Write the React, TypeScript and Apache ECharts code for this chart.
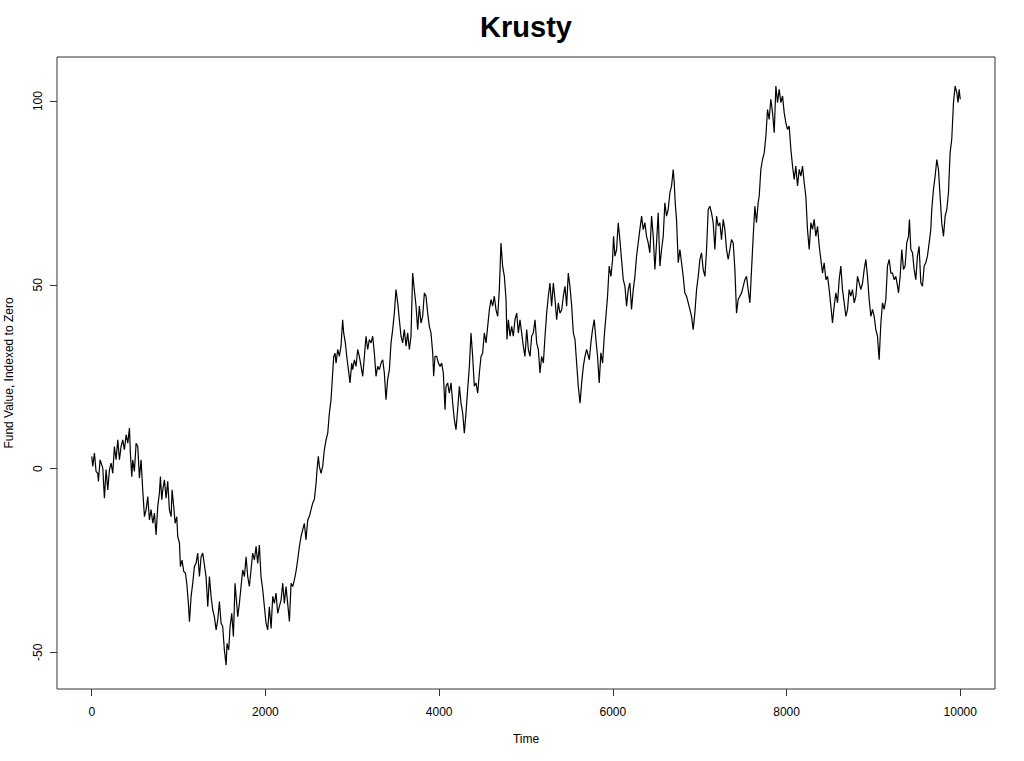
import React, { useEffect, useRef } from "react";
import * as echarts from "echarts";

const chartTitle = "Krusty";
const xName = "Time";
const yName = "Fund Value, Indexed to Zero";
const xTicks = [0, 2000, 4000, 6000, 8000, 10000];
const yTicks = [-50, 0, 50, 100];

// [time, value] readings
const seg1: number[][] = [
  [0,3.3],[12,0.6],[31,4.2],[50,-0.8],[69,-1.3],[77,-3.5],[96,2.4],[115,1.0],[127,0.1],[146,-8.1],
  [165,-0.3],[185,-5.8],[204,-0.3],[223,1.5],[242,-1.3],[261,6.0],[280,2.4],[300,7.8],[319,2.4],[338,6.0],
  [357,7.8],[376,5.1],[396,9.2],[415,6.9],[434,11.0],[445,4.2],[461,-2.2],[472,2.4],[491,-0.8],[511,6.9],
  [530,6.0],[549,-2.6],[568,2.4],[587,-5.8],[607,-13.1],[626,-11.2],[645,-7.6],[664,-14.0],[683,-11.2],[703,-14.9],
  [722,-12.1],[741,-18.1],[760,-10.3],[779,-6.7],[791,-2.2],[806,-8.5],[818,-5.8],[837,-3.1],[856,-8.1],[875,-3.5],
  [894,-11.2],[914,-13.1],[925,-5.8],[944,-10.3],[960,-14.9],[979,-13.1],[990,-18.5],[1010,-20.3],[1021,-26.7],[1040,-24.9],
  [1059,-28.0],[1079,-28.5],[1094,-31.2],[1113,-36.7],[1125,-41.7],[1144,-34.8],[1163,-31.2],[1182,-26.7],[1201,-25.8],[1220,-23.0],
  [1240,-29.4],[1259,-24.0],[1278,-23.0],[1297,-26.2],[1316,-29.4],[1336,-37.6],[1355,-29.4],[1374,-34.8],[1393,-38.5],[1412,-40.3],
  [1432,-43.9],[1451,-41.2],[1470,-36.2],[1489,-42.1],[1508,-43.0],[1527,-49.4],[1547,-53.5],[1558,-47.6],[1577,-49.4],[1593,-43.0],
  [1612,-39.4],[1631,-45.7],[1650,-31.2],[1662,-34.8],[1681,-40.3],[1700,-36.7],[1719,-32.1],[1738,-27.6],[1758,-29.4],[1777,-24.0],
  [1796,-29.4]
];

const seg2: number[][] = [
  [1815,-32.1],[1834,-27.6],[1853,-23.0],[1873,-24.9],[1892,-21.2],[1911,-25.8],[1930,-20.8],[1949,-29.4],[1969,-33.0],[1988,-37.6],
  [2007,-42.1],[2026,-43.9],[2045,-37.6],[2065,-43.5],[2084,-34.8],[2103,-36.7],[2122,-33.9],[2141,-39.4],[2160,-37.6],[2180,-35.8],
  [2199,-31.2],[2218,-36.7],[2237,-32.1],[2256,-36.7],[2276,-41.6],[2295,-31.2],[2314,-32.1],[2333,-30.3],[2352,-28.0],[2371,-24.9],
  [2391,-21.2],[2410,-18.5],[2429,-16.7],[2448,-14.9],[2467,-19.4],[2487,-14.0],[2506,-13.0],[2525,-11.2],[2544,-9.4],[2563,-8.5],
  [2583,-4.0],[2594,-0.3],[2609,3.3],[2621,0.6],[2640,-1.3],[2659,0.6],[2678,5.1],[2698,7.8],[2717,9.6],[2736,15.1],
  [2755,18.7],[2767,23.3],[2786,30.5],[2801,31.4],[2813,28.7],[2832,32.4],[2851,30.5],[2870,33.3],[2889,40.5],[2901,36.9],
  [2920,34.2],[2936,30.5],[2955,26.9],[2974,23.3],[2993,28.7],[3005,26.9],[3024,29.6],[3043,27.8],[3062,32.4],[3081,30.5],
  [3101,27.8],[3120,25.1],[3139,30.5],[3158,36.0],[3177,32.4],[3196,35.1],[3216,34.2],[3235,36.0],[3254,31.4],[3273,25.1],
  [3292,27.8],[3312,26.9],[3331,28.7],[3350,29.6],[3369,26.0],[3388,18.7],[3407,24.2],[3427,26.9],[3446,34.2],[3465,37.8],
  [3484,42.3],[3503,48.7],[3523,45.1],[3542,40.5],[3561,36.0],[3580,34.2],[3599,37.8],[3619,33.3],[3638,36.9],[3657,32.4],
  [3676,36.0],[3695,53.2],[3714,48.7],[3734,44.2],[3753,37.8]
];

const seg3: number[][] = [
  [3772,44.2],[3791,39.6],[3810,41.4],[3830,47.8],[3849,46.9],[3868,42.3],[3887,38.7],[3906,36.9],[3926,31.4],[3937,25.1],
  [3952,30.5],[3972,30.5],[3991,28.7],[4010,27.8],[4029,28.7],[4048,26.0],[4068,16.0],[4079,22.4],[4098,23.3],[4117,20.5],
  [4137,23.3],[4156,17.8],[4175,13.3],[4194,10.6],[4213,16.0],[4233,22.4],[4252,17.8],[4271,15.1],[4290,9.6],[4309,15.1],
  [4328,21.4],[4348,27.8],[4367,36.9],[4386,30.5],[4405,22.4],[4424,23.3],[4444,20.5],[4463,26.0],[4482,30.5],[4501,31.4],
  [4520,36.9],[4540,34.2],[4559,38.7],[4578,43.2],[4597,46.0],[4616,44.2],[4635,46.9],[4655,43.2],[4674,41.4],[4693,48.7],
  [4712,61.4],[4731,55.0],[4751,52.3],[4770,46.0],[4781,35.1],[4797,40.5],[4816,36.0],[4835,38.7],[4854,36.0],[4873,40.5],
  [4893,42.3],[4912,36.9],[4931,40.5],[4950,36.9],[4969,33.3],[4988,30.5],[5008,37.8],[5027,32.4],[5046,30.5],[5065,36.0],
  [5084,36.9],[5104,40.5],[5123,34.2],[5142,32.4],[5161,26.0],[5180,30.5],[5200,28.7],[5219,36.0],[5238,42.3],[5257,46.9],
  [5276,50.5],[5295,44.2],[5315,50.5],[5334,46.0],[5353,40.5],[5372,45.1],[5391,42.3],[5411,43.2],[5430,46.9],[5449,49.6],
  [5468,44.2],[5487,53.2],[5506,49.6],[5526,44.2],[5545,36.9],[5564,35.1],[5583,28.7],[5602,22.4],[5622,17.8],[5641,23.3],
  [5660,27.8],[5679,30.5],[5698,32.4],[5729,29.6]
];

const seg4: number[][] = [
  [5747,34.2],[5766,37.8],[5786,40.5],[5805,35.1],[5824,30.5],[5843,23.3],[5862,31.5],[5882,28.7],[5901,36.0],[5920,41.4],
  [5939,46.9],[5958,55.1],[5978,52.3],[5997,56.9],[6008,63.2],[6024,57.8],[6043,59.6],[6062,66.9],[6081,62.3],[6100,56.9],
  [6120,51.4],[6139,49.6],[6158,44.2],[6177,48.7],[6196,50.5],[6215,43.3],[6235,48.7],[6254,52.3],[6273,57.8],[6292,61.4],
  [6311,65.0],[6331,68.7],[6350,65.0],[6369,66.9],[6388,63.2],[6407,61.4],[6426,58.7],[6446,68.7],[6465,63.2],[6484,54.2],
  [6503,61.4],[6522,69.6],[6542,55.1],[6561,59.6],[6580,63.2],[6599,72.3],[6618,68.7],[6637,70.5],[6657,75.0],[6676,76.9],
  [6695,81.4],[6707,77.8],[6718,72.3],[6733,67.8],[6753,56.0],[6772,59.6],[6791,56.0],[6810,52.3],[6829,47.8],[6848,46.9],
  [6868,45.1],[6887,43.3],[6906,41.4],[6925,37.8],[6944,42.3],[6964,48.7],[6983,52.3],[7002,56.9],[7021,58.7],[7040,54.2],
  [7060,52.3],[7079,59.6],[7098,70.5],[7117,71.4],[7136,69.6],[7155,66.9],[7175,59.6],[7194,68.7],[7213,66.0],[7232,66.9],
  [7251,62.3],[7271,67.8],[7290,65.0],[7309,59.6],[7328,56.9],[7347,59.6],[7366,62.3],[7386,61.4],[7405,54.2],[7424,42.3],
  [7443,46.0],[7462,46.9],[7482,47.8],[7501,49.6],[7520,51.4],[7539,52.3],[7558,48.7],[7578,45.1],[7597,54.2],[7616,63.2],
  [7635,71.4],[7654,66.9],[7673,72.3]
];

const seg5: number[][] = [
  [7685,74.1],[7704,81.4],[7723,84.1],[7743,85.9],[7762,90.5],[7781,97.7],[7800,95.0],[7819,100.5],[7839,96.8],[7858,91.4],
  [7877,104.1],[7896,99.6],[7915,103.2],[7935,99.6],[7954,101.4],[7973,96.8],[7992,94.1],[8011,92.3],[8030,93.2],[8050,86.8],
  [8069,82.3],[8088,78.7],[8107,82.3],[8126,76.9],[8146,81.4],[8165,79.6],[8184,82.3],[8203,77.8],[8222,74.1],[8241,65.1],
  [8261,59.6],[8280,66.9],[8299,65.1],[8318,67.8],[8337,63.2],[8357,65.9],[8376,60.5],[8395,56.9],[8414,53.2],[8433,56.0],
  [8453,51.4],[8472,52.3],[8491,48.7],[8510,44.2],[8529,39.6],[8548,44.2],[8568,47.8],[8587,45.1],[8606,51.4],[8625,55.1],
  [8644,48.7],[8664,45.1],[8683,41.4],[8702,43.3],[8721,48.7],[8740,46.9],[8759,48.7],[8779,45.1],[8798,46.9],[8817,52.3],
  [8836,50.5],[8855,48.7],[8875,50.5],[8894,54.2],[8913,56.9],[8932,52.3],[8951,46.0],[8971,41.4],[8990,43.3],[9009,41.4],
  [9028,37.8],[9047,36.0],[9066,29.6],[9086,39.6],[9105,45.1],[9124,43.3],[9143,46.0],[9162,55.1],[9182,56.9],[9201,53.2],
  [9220,53.2],[9239,51.4],[9258,52.3],[9278,49.6]
];

const seg6: number[][] = [
  [9289,47.8],[9308,52.3],[9327,59.6],[9346,54.2],[9365,55.1],[9384,61.4],[9404,63.2],[9415,67.8],[9431,59.6],[9450,58.7],
  [9469,54.2],[9488,51.4],[9507,57.8],[9526,60.5],[9546,50.5],[9565,49.6],[9584,55.1],[9603,56.0],[9622,57.8],[9642,61.4],
  [9661,65.1],[9672,70.5],[9691,75.9],[9711,79.6],[9730,84.1],[9749,81.4],[9768,74.1],[9787,66.9],[9807,63.2],[9826,68.7],
  [9845,70.5],[9864,75.0],[9883,85.9],[9902,89.6],[9922,99.6],[9941,104.1],[9960,102.3],[9975,99.6],[9987,103.2],[10000,100.5]
];

const fontFamily = "'Liberation Sans', Arial, Helvetica, sans-serif";

export default function App() {
  const ref = useRef<HTMLDivElement>(null);
  useEffect(() => {
    if (!ref.current) return;
    const chart = echarts.init(ref.current, null, { renderer: "svg" });
    const data = [...seg1, ...seg2, ...seg3, ...seg4, ...seg5, ...seg6];
    chart.setOption({
      animation: false,
      backgroundColor: "#ffffff",
      title: {
        text: chartTitle,
        left: 526,
        top: 12,
        padding: 0,
        textAlign: "center",
        textStyle: { fontFamily, fontWeight: "bold", fontSize: 29, color: "#000" },
      },
      grid: {
        left: 57,
        right: 29,
        top: 57,
        bottom: 72,
        show: true,
        borderColor: "#333",
        borderWidth: 1,
        backgroundColor: "transparent",
        containLabel: false,
        outerBoundsMode: "none",
      },
      xAxis: {
        type: "value",
        min: -400,
        max: 10400,
        axisLine: { show: false, onZero: false },
        splitLine: { show: false },
        axisTick: { show: true, length: 7, lineStyle: { color: "#333" }, customValues: xTicks },
        axisLabel: {
          customValues: xTicks,
          formatter: (v: number) => String(v),
          margin: 17,
          fontSize: 12,
          color: "#000",
          fontFamily,
        },
        name: xName,
        nameLocation: "middle",
        nameGap: 44,
        nameTextStyle: { fontSize: 12, color: "#000", fontFamily },
      },
      yAxis: {
        type: "value",
        min: -60,
        max: 112,
        axisLine: { show: false, onZero: false },
        splitLine: { show: false },
        axisTick: { show: true, length: 7, lineStyle: { color: "#333" }, customValues: yTicks },
        axisLabel: {
          customValues: yTicks,
          formatter: (v: number) => String(v),
          rotate: 90,
          margin: 13,
          fontSize: 12,
          color: "#000",
          fontFamily,
        },
        name: yName,
        nameLocation: "middle",
        nameRotate: 90,
        nameGap: 42,
        nameTextStyle: { fontSize: 12, color: "#000", fontFamily },
      },
      series: [
        {
          type: "line",
          data,
          symbol: "none",
          showSymbol: false,
          lineStyle: { color: "#000", width: 1.2 },
        },
      ],
    });
    return () => chart.dispose();
  }, []);
  return (
    <div
      ref={ref}
      style={{ position: "absolute", left: 0, top: 0, width: 1024, height: 761, background: "#fff" }}
    />
  );
}
